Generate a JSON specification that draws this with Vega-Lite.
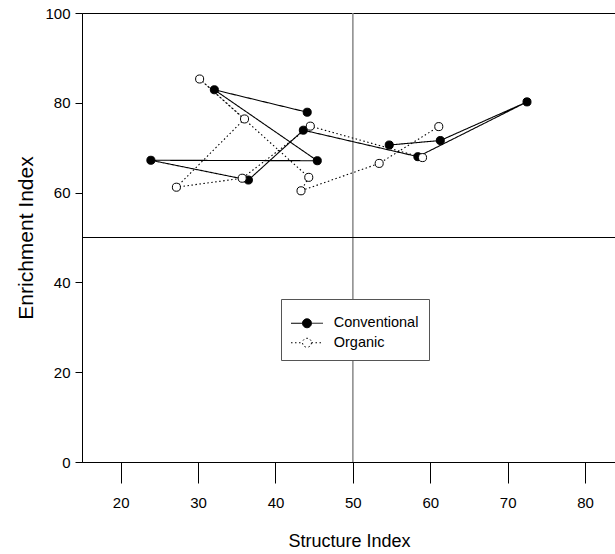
{
  "$schema": "https://vega.github.io/schema/vega-lite/v6.json",
  "width": 534,
  "height": 449,
  "autosize": {"type": "none"},
  "padding": {"left": 82, "top": 13, "right": 0, "bottom": 92},
  "background": "white",
  "config": {
    "font": "Liberation Sans",
    "view": {"stroke": "black", "strokeWidth": 1},
    "axis": {"grid": false, "domainColor": "black", "tickColor": "black", "labelColor": "black", "titleColor": "black", "labelFont": "Liberation Sans", "titleFont": "Liberation Sans", "titleFontWeight": "normal", "labelFontSize": 15, "domainWidth": 1, "tickWidth": 1},
    "axisX": {"tickSize": 21, "labelPadding": 12, "titleFontSize": 18, "titleBaseline": "alphabetic", "titleY": 84},
    "axisY": {"tickSize": 7, "labelPadding": 5, "titleFontSize": 21, "titleBaseline": "alphabetic", "titleX": -50}
  },
  "datasets": {
    "pts": [
      {"Treatment": "Conventional", "seq": 1, "SI": 44.1, "EI": 77.9},
      {"Treatment": "Conventional", "seq": 2, "SI": 32.1, "EI": 82.9},
      {"Treatment": "Conventional", "seq": 3, "SI": 45.4, "EI": 67.1},
      {"Treatment": "Conventional", "seq": 4, "SI": 23.9, "EI": 67.2},
      {"Treatment": "Conventional", "seq": 5, "SI": 36.5, "EI": 62.8},
      {"Treatment": "Conventional", "seq": 6, "SI": 43.6, "EI": 73.9},
      {"Treatment": "Conventional", "seq": 7, "SI": 58.4, "EI": 68.0},
      {"Treatment": "Conventional", "seq": 8, "SI": 72.5, "EI": 80.2},
      {"Treatment": "Conventional", "seq": 9, "SI": 61.3, "EI": 71.6},
      {"Treatment": "Conventional", "seq": 10, "SI": 54.7, "EI": 70.6},
      {"Treatment": "Organic", "seq": 1, "SI": 59.0, "EI": 67.8},
      {"Treatment": "Organic", "seq": 2, "SI": 44.5, "EI": 74.8},
      {"Treatment": "Organic", "seq": 3, "SI": 35.7, "EI": 63.2},
      {"Treatment": "Organic", "seq": 4, "SI": 27.2, "EI": 61.2},
      {"Treatment": "Organic", "seq": 5, "SI": 36.0, "EI": 76.4},
      {"Treatment": "Organic", "seq": 6, "SI": 30.2, "EI": 85.3},
      {"Treatment": "Organic", "seq": 7, "SI": 44.3, "EI": 63.4},
      {"Treatment": "Organic", "seq": 8, "SI": 43.3, "EI": 60.4},
      {"Treatment": "Organic", "seq": 9, "SI": 53.4, "EI": 66.5},
      {"Treatment": "Organic", "seq": 10, "SI": 61.1, "EI": 74.7}
    ]
  },
  "layer": [
    {
      "data": {"values": [{"SI": 50}]},
      "mark": {"type": "rule", "color": "#888888", "strokeWidth": 1.5},
      "encoding": {
        "x": {"field": "SI", "type": "quantitative", "title": "Structure Index", "scale": {"domain": [15, 84], "nice": false, "zero": false}, "axis": {"values": [20, 30, 40, 50, 60, 70, 80]}}
      }
    },
    {
      "data": {"values": [{"EI": 50}]},
      "mark": {"type": "rule", "color": "black", "strokeWidth": 1},
      "encoding": {
        "y": {"field": "EI", "type": "quantitative", "title": "Enrichment Index", "scale": {"domain": [0, 100], "nice": false}, "axis": {"values": [0, 20, 40, 60, 80, 100]}}
      }
    },
    {
      "data": {"name": "pts"},
      "mark": {"type": "line", "color": "black", "strokeWidth": 1.1},
      "encoding": {
        "x": {"field": "SI", "type": "quantitative", "title": "Structure Index", "scale": {"domain": [15, 84], "nice": false, "zero": false}, "axis": {"values": [20, 30, 40, 50, 60, 70, 80]}},
        "y": {"field": "EI", "type": "quantitative", "title": "Enrichment Index", "scale": {"domain": [0, 100], "nice": false}, "axis": {"values": [0, 20, 40, 60, 80, 100]}},
        "order": {"field": "seq", "type": "quantitative"},
        "strokeDash": {
          "field": "Treatment", "type": "nominal",
          "scale": {"domain": ["Conventional", "Organic"], "range": [[1, 0], [1.5, 2.5]]},
          "legend": {"orient": "none", "legendX": 199, "legendY": 286, "title": " ", "titleFontSize": 7, "titlePadding": 0, "padding": 10, "fillColor": "white", "strokeColor": "#555555", "symbolType": "M-3.2,0L-0.9,0M0.9,0L3.2,0M0.9,0A0.9,0.9,0,1,1,-0.9,0A0.9,0.9,0,1,1,0.9,0Z", "symbolSize": 100, "symbolStrokeColor": "black", "symbolStrokeWidth": 1, "symbolOffset": 8.75, "labelOffset": 19.5, "labelFont": "Liberation Sans", "labelFontSize": 14.5, "labelColor": "black", "rowPadding": 4.5}
        }
      }
    },
    {
      "data": {"name": "pts"},
      "mark": {"type": "point", "filled": true, "size": 65, "stroke": "black", "strokeWidth": 1, "opacity": 1},
      "encoding": {
        "x": {"field": "SI", "type": "quantitative", "title": "Structure Index", "scale": {"domain": [15, 84], "nice": false, "zero": false}, "axis": {"values": [20, 30, 40, 50, 60, 70, 80]}},
        "y": {"field": "EI", "type": "quantitative", "title": "Enrichment Index", "scale": {"domain": [0, 100], "nice": false}, "axis": {"values": [0, 20, 40, 60, 80, 100]}},
        "fill": {
          "field": "Treatment", "type": "nominal",
          "scale": {"domain": ["Conventional", "Organic"], "range": ["black", "white"]},
          "legend": {"orient": "none", "legendX": 199, "legendY": 286, "title": " ", "titleFontSize": 7, "titlePadding": 0, "padding": 10, "fillColor": "white", "strokeColor": "#555555", "symbolType": "M-3.2,0L-0.9,0M0.9,0L3.2,0M0.9,0A0.9,0.9,0,1,1,-0.9,0A0.9,0.9,0,1,1,0.9,0Z", "symbolSize": 100, "symbolStrokeColor": "black", "symbolStrokeWidth": 1, "symbolOffset": 8.75, "labelOffset": 19.5, "labelFont": "Liberation Sans", "labelFontSize": 14.5, "labelColor": "black", "rowPadding": 4.5}
        }
      }
    }
  ]
}
